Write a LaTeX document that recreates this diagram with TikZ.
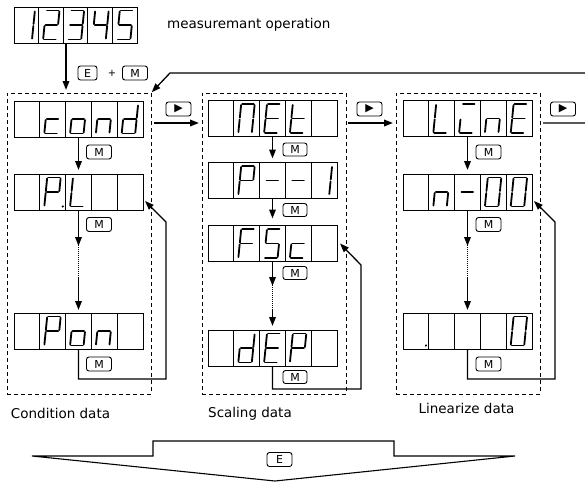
\documentclass[tikz,border=0pt]{standalone}
\usepackage{fontspec}
\setmainfont{DejaVu Sans}
\usetikzlibrary{arrows.meta,calc}

\tikzset{
  disp/.style={draw, line width=1pt, minimum width=129pt, minimum height=36pt, inner sep=0pt, outer sep=0pt},
  key/.style={draw, rounded corners=2.5pt, line width=0.9pt, minimum width=25pt, minimum height=14pt, inner sep=0pt, font=\fontsize{11}{11}\selectfont},
  grp/.style={draw, dash pattern=on 4pt off 3pt, line width=0.9pt, minimum width=144pt, minimum height=301pt, inner sep=0pt, outer sep=0pt},
  flow/.style={line width=1.8pt, -{Triangle[length=9pt,width=6.5pt]}},
  loopline/.style={line width=1.3pt, -{Triangle[length=9pt,width=6.5pt]}},
  dots/.style={line width=1.2pt, dash pattern=on 1pt off 1pt},
  seg/.style={line width=1.8pt, line cap=round},
  lbl/.style={font=\fontsize{13.5}{16}\selectfont, inner sep=0pt},
}

\def\SEGa{\draw[seg] (1,29)--(12.5,29);}
\def\SEGb{\draw[seg] (13.5,28)--(13.5,15.5);}
\def\SEGc{\draw[seg] (13.5,13.5)--(13.5,1);}
\def\SEGd{\draw[seg] (1,0)--(12.5,0);}
\def\SEGe{\draw[seg] (0,13.5)--(0,1);}
\def\SEGf{\draw[seg] (0,28)--(0,15.5);}
\def\SEGg{\draw[seg] (1,14.5)--(12.5,14.5);}
\def\SEGp{\fill (18.5,0) circle (1.2);}

\newcommand\gl[4]{\begin{scope}[shift={($(#1.south west)+({(#2-1)*#3},0)$)}, shift={(4.5,-3.5)}, yscale=-1, xslant=-0.1]\foreach \sg in {#4}{\csname SEG\sg\endcsname}\end{scope}}
\newcommand\divs[2]{\foreach \i in {1,...,4}{\draw[line width=1pt] ($(#1.south west)+({\i*#2},0)$) -- ($(#1.north west)+({\i*#2},0)$);}}

\begin{document}
\begin{tikzpicture}[x=1pt,y=-1pt]
\useasboundingbox (0,0) rectangle (585,483);

% top display
\node[disp, minimum width=123pt] (top) at (75.5,25) {};
\divs{top}{24.6}
\gl{top}{1}{24.6}{b,c}
\gl{top}{2}{24.6}{a,b,g,e,d}
\gl{top}{3}{24.6}{a,b,g,c,d}
\gl{top}{4}{24.6}{f,g,b,c}
\gl{top}{5}{24.6}{a,f,g,c,d}
\node[lbl, anchor=west] (meas) at (167,25) {measuremant operation};

\node[key, minimum width=19pt] (kE) at (87.5,73) {E};
\node[font=\fontsize{10}{10}\selectfont, inner sep=0pt] (plus) at (112,73) {+};
\node[key] (kM) at (135,73) {M};

% groups
\node[grp] (g1) at (79,243.5) {};
\node[grp] (g2) at (274,243.5) {};
\node[grp] (g3) at (468,243.5) {};
\node[lbl] (l1) at (60.5,413) {Condition data};
\node[lbl] (l2) at (250,414) {Scaling data};
\node[lbl] (l3) at (466.5,408) {Linearize data};

% column 1 displays
\node[disp] (cond) at (78.5,119) {};
\node[disp] (PL) at (78.5,192) {};
\node[disp] (Pon) at (78.5,331) {};
\foreach \d in {cond,PL,Pon} {\divs{\d}{25.8}}
\gl{cond}{2}{25.8}{g,e,d}
\gl{cond}{3}{25.8}{g,c,d,e}
\gl{cond}{4}{25.8}{g,e,c}
\gl{cond}{5}{25.8}{b,c,d,e,g}
\gl{PL}{2}{25.8}{a,b,f,g,e,p}
\gl{PL}{3}{25.8}{f,e,d}
\gl{Pon}{2}{25.8}{a,b,f,g,e}
\gl{Pon}{3}{25.8}{g,c,d,e}
\gl{Pon}{4}{25.8}{g,e,c}

% column 2 displays
\node[disp] (NEt) at (272.5,118.5) {};
\node[disp] (P1) at (272.5,180.5) {};
\node[disp] (FSc) at (272.5,243.5) {};
\node[disp] (dEP) at (272.5,348) {};
\foreach \d in {NEt,P1,FSc,dEP} {\divs{\d}{25.8}}
\gl{NEt}{2}{25.8}{a,b,c,e,f}
\gl{NEt}{3}{25.8}{a,f,g,e,d}
\gl{NEt}{4}{25.8}{f,g,e,d}
\gl{P1}{2}{25.8}{a,b,f,g,e}
\gl{P1}{3}{25.8}{g}
\gl{P1}{4}{25.8}{g}
\gl{P1}{5}{25.8}{b,c}
\gl{FSc}{2}{25.8}{a,f,g,e}
\gl{FSc}{3}{25.8}{a,f,g,c,d}
\gl{FSc}{4}{25.8}{g,e,d}
\gl{dEP}{2}{25.8}{b,c,d,e,g}
\gl{dEP}{3}{25.8}{a,f,g,e,d}
\gl{dEP}{4}{25.8}{a,b,f,g,e}

% column 3 displays
\node[disp] (LinE) at (467.5,118.5) {};
\node[disp] (n00) at (467.5,192) {};
\node[disp] (last) at (467.5,331) {};
\foreach \d in {LinE,n00,last} {\divs{\d}{25.8}}
\gl{LinE}{2}{25.8}{f,e,d}
\gl{LinE}{3}{25.8}{a,e,d}
\gl{LinE}{4}{25.8}{g,e,c}
\gl{LinE}{5}{25.8}{a,f,g,e,d}
\gl{n00}{2}{25.8}{g,e,c}
\gl{n00}{3}{25.8}{g}
\gl{n00}{4}{25.8}{a,b,c,d,e,f}
\gl{n00}{5}{25.8}{a,b,c,d,e,f}
\gl{last}{1}{25.8}{p}
\gl{last}{5}{25.8}{a,b,c,d,e,f}

% top arrow
\coordinate (tx) at ($(top.south west)+(52,0)$);
\draw[flow, shorten >=3pt] (tx) -- (tx |- g1.north);

% column 1 arrows
\draw[flow, shorten >=4pt] (cond.south) -- (PL.north);
\coordinate (c1a) at (78.5,246);
\coordinate (c1b) at (78.5,277);
\draw[flow] (PL.south) -- (c1a);
\draw[dots] ([yshift=3pt]c1a) -- (c1b);
\draw[flow, shorten >=3pt] (c1b) -- (Pon.north);
\node[key] (m11) at (99,152) {M};
\node[key] (m12) at (99,224.5) {M};
\node[key] (m13) at (99,364) {M};
\coordinate (r1) at (166,222);
\draw[loopline] (Pon.south) -- ++(0,30) -| (r1) -- ($(PL.south east)+(2,-9)$);

% column 2 arrows
\draw[flow, shorten >=4pt] (NEt.south) -- (P1.north);
\draw[flow, shorten >=7pt] (P1.south) -- (FSc.north);
\coordinate (c2a) at (272.5,286);
\coordinate (c2b) at (272.5,310);
\draw[flow] (FSc.south) -- (c2a);
\draw[dots] ([yshift=3pt]c2a) -- (c2b);
\draw[flow, shorten >=4pt] (c2b) -- (dEP.north);
\node[key, minimum width=24pt, minimum height=13pt] (m21) at (295,149.5) {M};
\node[key, minimum width=24pt, minimum height=13pt] (m22) at (295,210) {M};
\node[key, minimum width=24pt, minimum height=13pt] (m23) at (295,273) {M};
\node[key, minimum width=24pt, minimum height=13pt] (m24) at (295,377) {M};
\coordinate (r2) at (361,265);
\draw[loopline] (dEP.south) -- ++(0,23) -| (r2) -- ($(FSc.south east)+(3,-18)$);

% column 3 arrows
\draw[flow, shorten >=4pt] (LinE.south) -- (n00.north);
\coordinate (c3a) at (467.5,246);
\coordinate (c3b) at (467.5,277);
\draw[flow] (n00.south) -- (c3a);
\draw[dots] ([yshift=3pt]c3a) -- (c3b);
\draw[flow, shorten >=3pt] (c3b) -- (last.north);
\node[key] (m31) at (488.5,152) {M};
\node[key] (m32) at (488.5,224.5) {M};
\node[key] (m33) at (488.5,364) {M};
\coordinate (r3) at (555,222);
\draw[loopline] (last.south) -- ++(0,30) -| (r3) -- ($(n00.south east)+(2,-9)$);

% horizontal flow
\coordinate (hy) at (0,123);
\draw[flow] ($(g1.east |- hy)+(3,0)$) -- ($(g2.west |- hy)+(-3,0)$);
\draw[flow] ($(g2.east |- hy)+(2,0)$) -- ($(g3.west |- hy)+(-3,0)$);
\node[key, font=\fontsize{11}{11}\selectfont] (n1) at (178.5,109) {▶};
\node[key, font=\fontsize{11}{11}\selectfont] (n2) at (369.5,109) {▶};
\node[key, font=\fontsize{11}{11}\selectfont] (n3) at (563,109) {▶};
\coordinate (ret1) at (592,123);
\coordinate (ret2) at (592,73);
\coordinate (ret3) at (170,73);
\draw[flow, line width=1.3pt, shorten >=1pt] ($(g3.east |- hy)+(3,0)$) -- (ret1) -- (ret2) -- (ret3) -- (g1.north east);

% bottom big arrow
\draw[line width=1.1pt, line join=miter] (32,456) -- (153,456) -- (153,441) -- (394,441) -- (394,456) -- (515,456) -- (275,481) -- cycle;
\node[key] (kE2) at (279.5,459.5) {E};
\end{tikzpicture}
\end{document}
